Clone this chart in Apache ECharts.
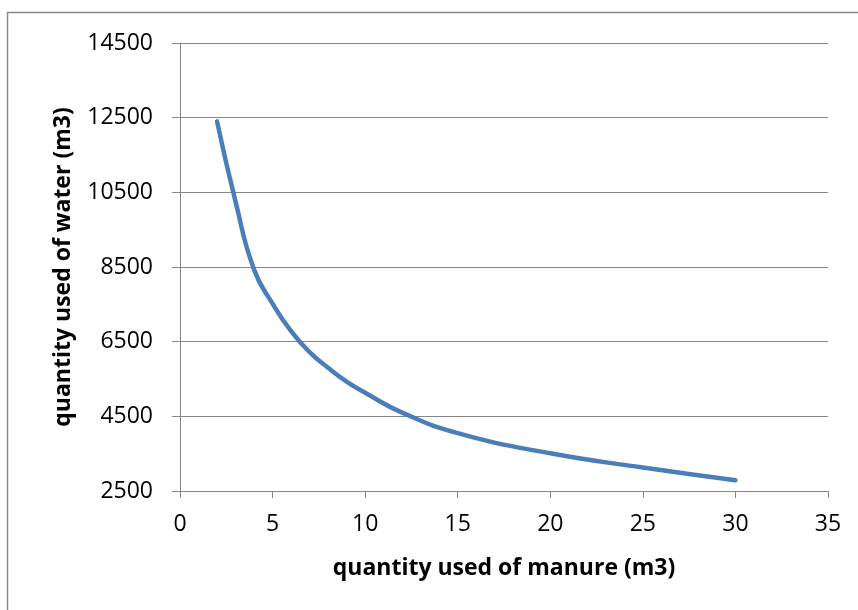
<!DOCTYPE html>
<html>
<head>
<meta charset="utf-8">
<title>manure vs water</title>
<script src="https://cdn.jsdelivr.net/npm/echarts@6/dist/echarts.min.js"></script>
<style>
  html, body { margin: 0; padding: 0; background: #ffffff; }
  #chart1 { width: 858px; height: 610px; }
</style>
</head>
<body>
<div id="chart1"></div>
<script>
// values
var manure = [2, 3, 4, 5, 6, 7, 8, 9, 10, 12, 15, 20, 25, 30];
var water = [12400, 10250, 8430, 7520, 6780, 6220, 5800, 5430, 5130, 4600, 4050, 3510, 3130, 2790];
var xTitle = 'quantity used of manure (m3)';
var yTitle = 'quantity used of water (m3)';

var myChart = echarts.init(document.getElementById('chart1'));

function make_data() {
	var d = [];
	for (var i = 0; i < manure.length; i++) {
		d.push([manure[i], water[i]]);
	}
	return d;
}

var gray = '#868686';
var font = 'Open Sans';

var option = {
	backgroundColor: '#ffffff',
	animation: false,
	graphic: [{
		type: 'rect',
		shape: { x: 7.5, y: 12.5, width: 1000, height: 1000 },
		style: { fill: 'none', stroke: '#8a8a8a', lineWidth: 1.5 },
		silent: true
	}],
	grid: {
		left: 180,
		right: 30,
		top: 43,
		bottom: 119,
		containLabel: false
	},
	xAxis: {
		type: 'value',
		min: 0,
		max: 35,
		interval: 5,
		name: xTitle,
		nameLocation: 'middle',
		nameGap: 66,
		nameTextStyle: {
			color: '#000000',
			fontFamily: font,
			fontWeight: 'bold',
			fontSize: 23
		},
		axisLine: { show: true, lineStyle: { color: gray, width: 1 } },
		axisTick: { show: true, length: 7, lineStyle: { color: gray } },
		axisLabel: {
			margin: 22,
			color: '#000000',
			fontFamily: font,
			fontSize: 23,
			formatter: function (v) { return String(v); }
		},
		splitLine: { show: false }
	},
	yAxis: {
		type: 'value',
		min: 2500,
		max: 14500,
		interval: 2000,
		name: yTitle,
		nameLocation: 'middle',
		nameGap: 105,
		nameTextStyle: {
			color: '#000000',
			fontFamily: font,
			fontWeight: 'bold',
			fontSize: 23
		},
		axisLine: { show: true, lineStyle: { color: gray, width: 1 } },
		axisTick: { show: true, length: 8, lineStyle: { color: gray } },
		axisLabel: {
			margin: 27,
			color: '#000000',
			fontFamily: font,
			fontSize: 23,
			formatter: function (v) { return String(v); }
		},
		splitLine: { show: true, lineStyle: { color: gray, width: 1 } }
	},
	series: [{
		type: 'line',
		data: make_data(),
		smooth: 0.5,
		showSymbol: false,
		symbol: 'none',
		lineStyle: { color: '#4a7ebb', width: 4.5, cap: 'round' }
	}]
};
myChart.setOption(option);
</script>
</body>
</html>
